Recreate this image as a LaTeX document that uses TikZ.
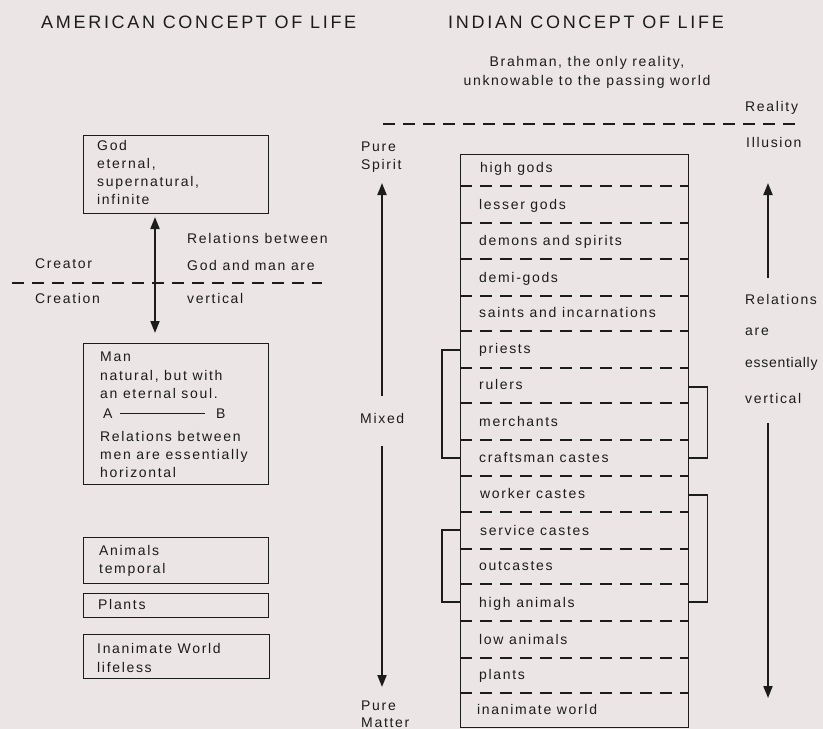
\documentclass[tikz,border=0pt]{standalone}
\usepackage{fontspec}
\setmainfont{Liberation Sans}[LetterSpace=12]
\usetikzlibrary{arrows.meta}
\definecolor{bg}{RGB}{236,229,229}
\definecolor{ink}{RGB}{28,28,28}
\begin{document}
\begin{tikzpicture}[x=1pt,y=-1pt,
  txt/.style={anchor=base west, inner sep=0pt, text=ink, font=\fontsize{14}{16}\selectfont},
  ctxt/.style={anchor=base, inner sep=0pt, text=ink, font=\fontsize{14}{16}\selectfont},
  ttl/.style={anchor=base west, inner sep=0pt, text=ink, font=\fontsize{18}{20}\selectfont\addfontfeature{LetterSpace=15}},
  box/.style={draw=ink, line width=1.4pt, anchor=north west, inner sep=0pt},
  sep/.style={draw=ink, line width=1.4pt, dash pattern=on 12pt off 8pt},
  arr/.style={draw=ink, fill=ink, line width=1.8pt, -{Triangle[width=9pt,length=12pt]}},
  darr/.style={draw=ink, fill=ink, line width=1.8pt, {Triangle[width=9pt,length=12pt]}-{Triangle[width=9pt,length=12pt]}},
  brk/.style={draw=ink, line width=1.4pt}]
\fill[bg] (0,0) rectangle (823,729);
\useasboundingbox (0,0) rectangle (823,729);

% titles
\node[ttl] (tA) at (41,28) {AMERICAN CONCEPT OF LIFE};
\node[ttl] (tI) at (448,28) {INDIAN CONCEPT OF LIFE};

% ---------------- American side ----------------
\node[box, minimum width=185pt, minimum height=78pt] (god) at (83,135) {};
\node[txt] (g1) at (97,150) {God};
\node[txt] (g2) at (97,168) {eternal,};
\node[txt] (g3) at (97,186) {supernatural,};
\node[txt] (g4) at (97,204) {infinite};

\coordinate (ga) at (155,217);
\coordinate (gb) at (155,333);
\draw[darr] (ga) -- (gb);
\coordinate (cl) at (12,283);
\coordinate (cr) at (322,283);
\draw[sep] (cl) -- (cr);
\node[txt] (cre1) at (35,268) {Creator};
\node[txt] (cre2) at (35,303) {Creation};
\node[txt] (rv1) at (187,243) {Relations between};
\node[txt] (rv2) at (187,270) {God and man are};
\node[txt] (rv3) at (187,303) {vertical};

\node[box, minimum width=185pt, minimum height=141pt] (man) at (83,343) {};
\node[txt] (m1) at (100,361) {Man};
\node[txt] (m2) at (100,380) {natural, but with};
\node[txt] (m3) at (100,398) {an eternal soul.};
\node[txt] (mA) at (103,418) {A};
\node[txt] (mB) at (216,418) {B};
\draw[ink, line width=1.2pt, shorten <=7pt, shorten >=11pt] (mA.east) -- (mB.west);
\node[txt] (m4) at (100,441) {Relations between};
\node[txt] (m5) at (100,459) {men are essentially};
\node[txt] (m6) at (100,477) {horizontal};

\node[box, minimum width=185pt, minimum height=46pt] (ani) at (83,537) {};
\node[txt] (a1) at (99,555) {Animals};
\node[txt] (a2) at (99,573) {temporal};

\node[box, minimum width=185pt, minimum height=24pt] (pla) at (83,593) {};
\node[txt] (p1) at (98,609) {Plants};

\node[box, minimum width=186pt, minimum height=44pt] (ina) at (83,634) {};
\node[txt] (i1) at (97,653) {Inanimate World};
\node[txt] (i2) at (97,672) {lifeless};

% ---------------- Indian side ----------------
\node[ctxt] (br1) at (587,66) {Brahman, the only reality,};
\node[ctxt] (br2) at (587,85) {unknowable to the passing world};
\node[txt] (rea) at (745,111) {Reality};
\node[txt] (ill) at (746,147) {Illusion};
\coordinate (rl) at (383,124);
\coordinate (rr) at (796,124);
\draw[sep] (rl) -- (rr);

\node[txt] (ps1) at (361,151) {Pure};
\node[txt] (ps2) at (361,169) {Spirit};
\node[txt] (mix) at (360,423) {Mixed};
\node[txt] (pm1) at (361,710) {Pure};
\node[txt] (pm2) at (361,727) {Matter};
\coordinate (ma1) at (382,396);
\coordinate (ma2) at (382,183);
\coordinate (mb1) at (382,446);
\coordinate (mb2) at (382,687);
\draw[arr] (ma1) -- (ma2);
\draw[arr] (mb1) -- (mb2);

\node[box, minimum width=228pt, minimum height=573pt] (col) at (460,154) {};
\foreach \yy in {186,223,259,296,331,368,403,440,476,512,549,584,621,658,693}
  \draw[sep] (col.west |- 0,\yy) -- (col.east |- 0,\yy);

\node[txt] (r1) at (480,172) {high gods};
\node[txt] (r2) at (479,209) {lesser gods};
\node[txt] (r3) at (479,245) {demons and spirits};
\node[txt] (r4) at (479,282) {demi-gods};
\node[txt] (r5) at (479,317) {saints and incarnations};
\node[txt] (r6) at (479,353) {priests};
\node[txt] (r7) at (479,389) {rulers};
\node[txt] (r8) at (479,426) {merchants};
\node[txt] (r9) at (479,462) {craftsman castes};
\node[txt] (r10) at (480,498) {worker castes};
\node[txt] (r11) at (480,535) {service castes};
\node[txt] (r12) at (479,570) {outcastes};
\node[txt] (r13) at (479,607) {high animals};
\node[txt] (r14) at (479,644) {low animals};
\node[txt] (r15) at (479,679) {plants};
\node[txt] (r16) at (477,714) {inanimate world};

% brackets
\draw[brk] (col.west |- 0,350) -- ++(-18,0) |- (col.west |- 0,458);
\draw[brk] (col.east |- 0,387) -- ++(18,0) |- (col.east |- 0,458);
\draw[brk] (col.east |- 0,495) -- ++(18,0) |- (col.east |- 0,602);
\draw[brk] (col.west |- 0,530) -- ++(-18,0) |- (col.west |- 0,602);

% right arrows and text
\coordinate (ua1) at (768,278);
\coordinate (ua2) at (768,183);
\coordinate (da1) at (768,423);
\coordinate (da2) at (768,698);
\draw[arr] (ua1) -- (ua2);
\draw[arr] (da1) -- (da2);
\node[txt] (rr1) at (745,304) {Relations};
\node[txt] (rr2) at (745,335) {are};
\node[txt, font=\fontsize{14}{16}\selectfont\addfontfeature{LetterSpace=5}] (rr3) at (745,367) {essentially};
\node[txt] (rr4) at (745,403) {vertical};
\end{tikzpicture}
\end{document}
